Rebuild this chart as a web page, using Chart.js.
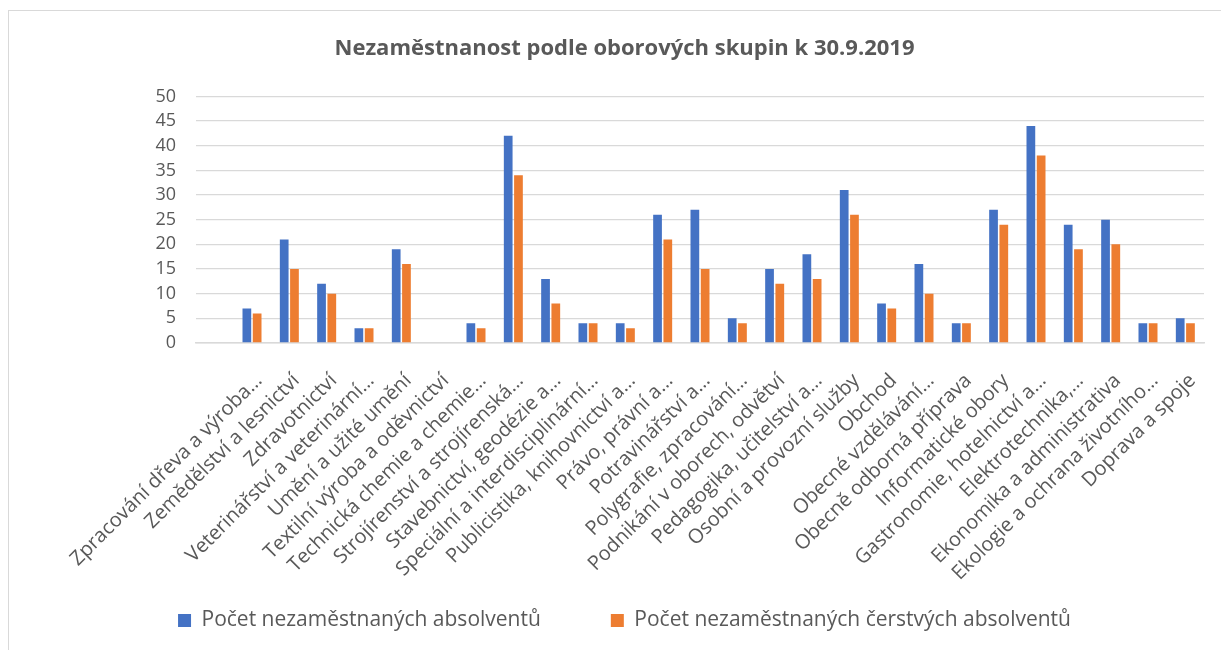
<!DOCTYPE html>
<html>
<head>
<meta charset="utf-8">
<script src="https://cdn.jsdelivr.net/npm/chart.js@4/dist/chart.umd.min.js"></script>
<style>
  html, body { margin: 0; padding: 0; background: #fff; overflow: hidden; }
  .frame { position: absolute; left: 8px; top: 10px; width: 1300px; height: 700px; border: 1px solid #d9d9d9; }
  .chartBox { position: absolute; left: 0; top: 0; width: 1221px; height: 650px; }
</style>
</head>
<body>
<div class="frame"></div>
<div class="chartBox"><canvas id="graph"></canvas></div>
<script>
  const categories = [
    "",
    "Zpracování dřeva a výroba…",
    "Zemědělství a lesnictví",
    "Zdravotnictví",
    "Veterinářství a veterinární…",
    "Umění a užité umění",
    "Textilní výroba a oděvnictví",
    "Technická chemie a chemie…",
    "Strojírenství a strojírenská…",
    "Stavebnictví, geodézie a…",
    "Speciální a interdisciplinární…",
    "Publicistika, knihovnictví a…",
    "Právo, právní a…",
    "Potravinářství a…",
    "Polygrafie, zpracování…",
    "Podnikání v oborech, odvětví",
    "Pedagogika, učitelství a…",
    "Osobní a provozní služby",
    "Obchod",
    "Obecné vzdělávání…",
    "Obecně odborná příprava",
    "Informatické obory",
    "Gastronomie, hotelnictví a…",
    "Elektrotechnika,…",
    "Ekonomika a administrativa",
    "Ekologie a ochrana životního…",
    "Doprava a spoje",
  ];

  let absolventi = [null, 7, 21, 12, 3, 19, 0, 4, 42, 13, 4, 4, 26, 27, 5, 15, 18, 31, 8, 16, 4, 27, 44, 24, 25, 4, 5];
  let cerstvi = [null, 6, 15, 10, 3, 16, 0, 3, 34, 8, 4, 3, 21, 15, 4, 12, 13, 26, 7, 10, 4, 24, 38, 19, 20, 4, 4];

  const yTicks = [0, 5, 10, 15, 20, 25, 30, 35, 40, 45, 50];

  const gray = "#595959";
  Chart.defaults.font.family = "'Open Sans', sans-serif";
  Chart.defaults.color = gray;

  let chart_element = document.getElementById("graph").getContext("2d");

  const chart = new Chart(chart_element, {
    type: "bar",
    data: {
      labels: categories,
      datasets: [
        {
          label: "Počet nezaměstnaných absolventů",
          data: absolventi,
          backgroundColor: "#4472C4",
          categoryPercentage: 0.55,
          barPercentage: 0.85,
        },
        {
          label: "Počet nezaměstnaných čerstvých absolventů",
          data: cerstvi,
          backgroundColor: "#ED7D31",
          categoryPercentage: 0.55,
          barPercentage: 0.85,
        },
      ],
    },
    options: {
      responsive: true,
      maintainAspectRatio: false,
      animation: false,
      layout: {
        padding: { left: 45, right: 17, top: 0, bottom: 9 },
      },
      plugins: {
        title: {
          display: true,
          text: "Nezaměstnanost podle oborových skupin k 30.9.2019",
          color: gray,
          font: { size: 22, weight: "bold" },
          padding: { top: 36, bottom: 34 },
        },
        legend: {
          position: "bottom",
          labels: {
            color: gray,
            font: { size: 21 },
            boxWidth: 13,
            boxHeight: 13,
            padding: 70,
          },
        },
        tooltip: { enabled: false },
      },
      scales: {
        x: {
          grid: { display: false },
          border: { color: "#d9d9d9", width: 1.5 },
          ticks: {
            autoSkip: false,
            minRotation: 45,
            maxRotation: 45,
            padding: 18,
            labelOffset: 7,
            font: { size: 20 },
            color: gray,
          },
          afterFit: (scale) => {
            scale.height = 197;
            scale.paddingLeft = 0;
            scale.paddingRight = 0;
            // let the long rotated labels run down past the axis box
            scale._computeLabelArea = () => undefined;
          },
        },
        y: {
          min: 0,
          max: 50,
          border: { display: false },
          grid: { color: "#d9d9d9", lineWidth: 1.3, drawTicks: false },
          afterBuildTicks: (scale) => {
            scale.ticks = yTicks.map((v) => ({ value: v }));
          },
          ticks: {
            padding: 20,
            font: { size: 18 },
            color: gray,
          },
          afterFit: (scale) => {
            scale.width = 151;
          },
        },
      },
    },
  });
</script>
</body>
</html>
